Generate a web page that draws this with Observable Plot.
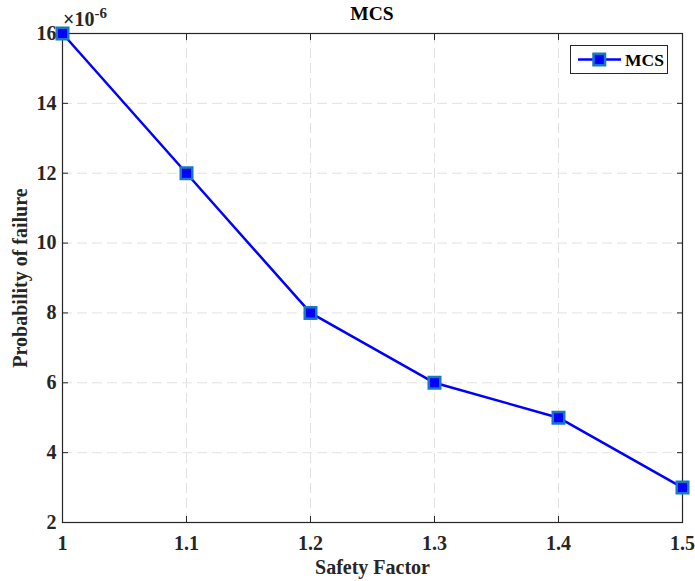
<!DOCTYPE html>
<html>
<head>
<meta charset="utf-8">
<script src="https://cdn.jsdelivr.net/npm/d3@7"></script>
<script src="https://cdn.jsdelivr.net/npm/@observablehq/plot@0.6"></script>
<style>
body { margin: 0; background: #fff; }
#wrap { position: relative; width: 695px; height: 581px; font-family: "Liberation Serif", "Times New Roman", serif; font-weight: bold; color: #262626; }
#title { position: absolute; left: 0; width: 744px; top: 2px; text-align: center; font-size: 19.5px; color: #000; line-height: 24px; }
#exp { position: absolute; left: 63px; top: 0px; font-size: 20px; line-height: 26px; font-weight: bold; color: #262626; }
#exp sup { font-size: 15px; position: relative; top: 0px; }
#legend { position: absolute; left: 570px; top: 45px; width: 98px; height: 29px; border: 1px solid #262626; background: #fff; box-sizing: border-box; }
#legend span { position: absolute; left: 54px; top: 3px; font-size: 17.5px; line-height: 22px; color: #000; }
</style>
</head>
<body>
<div id="wrap">
  <div id="chart"></div>
  <div id="title">MCS</div>
  <div id="exp">×10<sup>-6</sup></div>
  <div id="legend">
    <svg width="52" height="27" style="position:absolute;left:0;top:0">
      <line x1="7" x2="50" y1="13.5" y2="13.5" stroke="#0000ff" stroke-width="2.5"/>
      <rect x="22.5" y="7.75" width="11.5" height="11.5" fill="#0000ff" stroke="#1a78c2" stroke-width="2.5"/>
    </svg>
    <span>MCS</span>
  </div>
</div>
<script>
const safetyFactor = [1.0, 1.1, 1.2, 1.3, 1.4, 1.5];
const pf = [16, 12, 8, 6, 5, 3];
const xTicks = [1, 1.1, 1.2, 1.3, 1.4, 1.5];
const yTicks = [2, 4, 6, 8, 10, 12, 14, 16];
const data = safetyFactor.map((x, i) => ({x, y: pf[i]}));

const plot = Plot.plot({
  width: 695,
  height: 581,
  marginLeft: 62,
  marginRight: 13,
  marginTop: 33,
  marginBottom: 59,
  style: {fontFamily: "'Liberation Serif', 'Times New Roman', serif", fontWeight: "bold", fontSize: "19.5px", color: "#262626", background: "#fff"},
  x: {domain: [1, 1.5]},
  y: {domain: [2, 16]},
  marks: [
    Plot.gridX(xTicks.slice(1, -1), {stroke: "#e2e2e2", strokeOpacity: 1, strokeDasharray: "10,5", strokeWidth: 1}),
    Plot.gridY(yTicks.slice(1, -1), {stroke: "#e2e2e2", strokeOpacity: 1, strokeDasharray: "10,5", strokeWidth: 1}),
    Plot.frame({stroke: "#262626", strokeWidth: 1.2}),
    Plot.axisX(xTicks, {anchor: "bottom", tickSize: -6, tickPadding: 19, fontSize: 20, tickFormat: d => String(d), label: "Safety Factor", labelAnchor: "center", labelOffset: 51, labelArrow: "none", fill: "#262626", stroke: "#262626"}),
    Plot.axisX(xTicks, {anchor: "top", tickSize: -6, tickFormat: () => "", label: null, stroke: "#262626"}),
    Plot.axisY(yTicks, {anchor: "left", tickSize: -6, tickPadding: 12, fontSize: 20, tickFormat: d => String(d), label: "Probability of failure", labelAnchor: "center", labelOffset: 50, labelArrow: "none", fill: "#262626", stroke: "#262626"}),
    Plot.axisY(yTicks, {anchor: "right", tickSize: -6, tickFormat: () => "", label: null, stroke: "#262626"}),
    Plot.line(data, {x: "x", y: "y", stroke: "#0000ff", strokeWidth: 2.5}),
    Plot.dot(data, {x: "x", y: "y", symbol: "square", r: 6.5, fill: "#0000ff", stroke: "#1a78c2", strokeWidth: 2.5})
  ]
});
document.getElementById("chart").appendChild(plot);
</script>
</body>
</html>
